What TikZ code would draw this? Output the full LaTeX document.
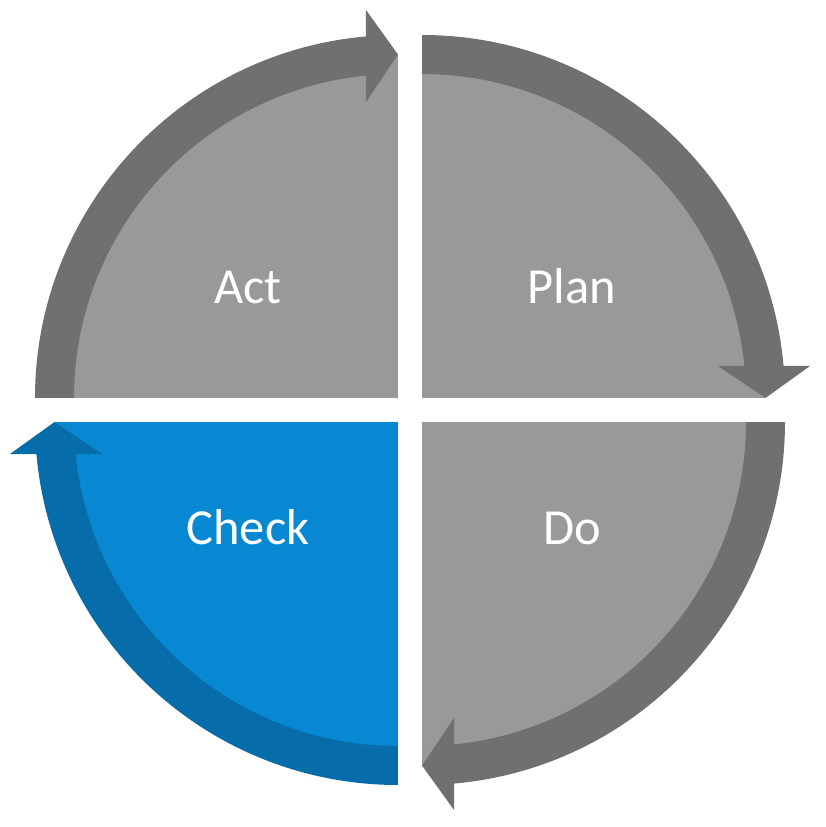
\documentclass[tikz,border=0pt]{standalone}
\usepackage{fontspec}
\setmainfont{Carlito}
\usepackage{tikz}

\definecolor{quadgray}{RGB}{153,153,153}
\definecolor{bandgray}{RGB}{112,112,112}
\definecolor{quadblue}{RGB}{8,136,210}
\definecolor{bandblue}{RGB}{6,108,170}

\begin{document}
\begin{tikzpicture}[x=1pt, y=1pt,
  phase/.style={text=white, font=\fontsize{50.5}{60}\selectfont, text height=32pt, text depth=0pt}]
\useasboundingbox (-410,-417) rectangle (416,410);
\foreach \a/\fc/\bc in {0/quadgray/bandgray, -90/quadgray/bandgray, -180/quadblue/bandblue, -270/quadgray/bandgray} {
  \begin{scope}[rotate=\a, shift={(12,12)}]
    \fill[\fc] (0,0) -- (0,343.5) arc[start angle=90, end angle=0, radius=343.5] -- cycle;
    \fill[\bc] (90:363) arc[start angle=90, end angle=5.06, radius=363] -- (388,32) -- (343.5,0)
      -- (296,32) -- (5.67:324) arc[start angle=5.67, end angle=90, radius=324] -- cycle;
  \end{scope}
}
\node (act) [phase] at (-162,122) {Act};
\node (plan) [phase, node distance=324pt, right of=act] {Plan};
\node (check) [phase, node distance=240pt, below of=act] {Check};
\node (do) [phase, node distance=240pt, below of=plan] {Do};
\end{tikzpicture}
\end{document}
